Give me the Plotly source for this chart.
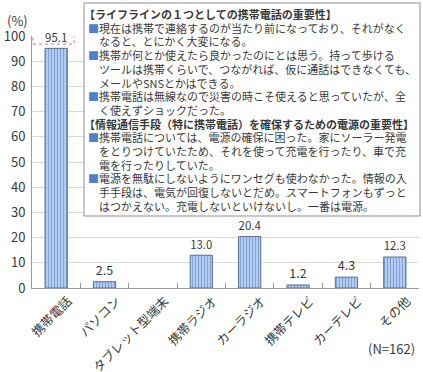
import plotly.graph_objects as go

# ---------------- data ----------------
categories = ["携帯電話", "パソコン", "タブレット型端末", "携帯ラジオ",
              "カーラジオ", "携帯テレビ", "カーテレビ", "その他"]
values = [95.1, 2.5, None, 13.0, 20.4, 1.2, 4.3, 12.3]
y_ticks = [0, 10, 20, 30, 40, 50, 60, 70, 80, 90, 100]
highlight_index = 0  # value framed with a dashed red box
n_label = "(N=162)"
unit_label = "(%)"

box_lines = [
    ("h", "【ライフラインの１つとしての携帯電話の重要性】"),
    ("b", "現在は携帯で連絡するのが当たり前になっており、それがなく"),
    ("c", "なると、とにかく大変になる。"),
    ("b", "携帯が何とか使えたら良かったのにとは思う。持って歩ける"),
    ("c", "ツールは携帯くらいで、つながれば、仮に通話はできなくても、"),
    ("c", "メールやSNSとかはできる。"),
    ("b", "携帯電話は無線なので災害の時こそ使えると思っていたが、全"),
    ("c", "く使えずショックだった。"),
    ("h", "【情報通信手段（特に携帯電話）を確保するための電源の重要性】"),
    ("b", "携帯電話については、電源の確保に困った。家にソーラー発電"),
    ("c", "をとりつけていたため、それを使って充電を行ったり、車で充"),
    ("c", "電を行ったりしていた。"),
    ("b", "電源を無駄にしないようにワンセグも使わなかった。情報の入"),
    ("c", "手手段は、電気が回復しないとだめ。スマートフォンもずっと"),
    ("c", "はつかえない。充電しないといけないし。一番は電源。"),
]

# ---------------- layout constants ----------------
W, H = 423, 372
ML, MR, MT, MB = 32, 4, 36, 84
PW = W - ML - MR
PH = H - MT - MB
FONT = "Noto Sans CJK JP"
TXT = "#3a3a3a"


def px_x(px):
    return (px - ML) / PW


def px_y(py):
    return (H - MB - py) / PH


fig = go.Figure()
fig.add_trace(go.Bar(
    x=categories,
    y=values,
    width=0.46,
    marker=dict(
        color="#b3ccef",
        line=dict(color="#5d6c88", width=1),
        pattern=dict(shape="|", fillmode="replace", bgcolor="#b8d0f2",
                     fgcolor="#7ca3dc", size=3, solidity=0.4),
    ),
    text=[None if v is None else f"{v:.1f}" for v in values],
    textposition="outside",
    textfont=dict(family=FONT, size=12.5, color=TXT),
    cliponaxis=False,
    hoverinfo="skip",
))

# dashed red frame around the highlighted value label
hv = values[highlight_index]
fig.add_shape(type="rect", xref="x", yref="y",
              x0=highlight_index - 0.48, x1=highlight_index + 0.37,
              y0=hv + 1.7, y1=hv + 9.3,
              line=dict(color="#e8707a", width=1, dash="dot"),
              fillcolor="rgba(0,0,0,0)", layer="above")

# text box
fig.add_shape(type="rect", xref="paper", yref="paper",
              x0=px_x(84), x1=px_x(420), y0=px_y(216), y1=px_y(3),
              line=dict(color="#8f8f8f", width=1), fillcolor="white",
              layer="above")

annotations = []
for i, (kind, t) in enumerate(box_lines):
    yc = 14 + i * 13.7
    if kind == "h":
        txt = "<b>" + t + "</b>"
        x0 = 83
    elif kind == "b":
        txt = "<span style='color:#4f7fc6'>■</span>" + t
        x0 = 87
    else:
        txt = "\u3000" + t
        x0 = 87
    annotations.append(dict(
        x=px_x(x0), y=px_y(yc), xref="paper", yref="paper",
        xanchor="left", yanchor="middle", showarrow=False, text=txt,
        borderpad=0,
        font=dict(family=FONT, size=11, color=TXT)))

annotations.append(dict(x=px_x(6), y=px_y(21), xref="paper", yref="paper",
                        xanchor="left", yanchor="middle", showarrow=False,
                        text=unit_label, borderpad=0,
                        font=dict(family=FONT, size=13, color=TXT)))
annotations.append(dict(x=px_x(416), y=px_y(348), xref="paper", yref="paper",
                        xanchor="right", yanchor="middle", showarrow=False,
                        text=n_label, borderpad=0,
                        font=dict(family=FONT, size=13, color=TXT)))

fig.update_layout(
    width=W, height=H,
    margin=dict(l=ML, r=MR, t=MT, b=MB, pad=0, autoexpand=False),
    paper_bgcolor="white", plot_bgcolor="white",
    showlegend=False,
    annotations=annotations,
    font=dict(family=FONT, color=TXT),
    bargap=0.54,
)
fig.update_yaxes(range=[0, 100], tickvals=y_ticks, showgrid=True,
                 gridcolor="#d9d9d9", gridwidth=1, showline=True,
                 linecolor="#9a9a9a", linewidth=1, ticks="", zeroline=False,
                 tickfont=dict(family=FONT, size=13, color=TXT),
                 ticklabelstandoff=3, automargin=False)
fig.update_xaxes(tickangle=-45, showline=True, linecolor="#9a9a9a",
                 linewidth=1, ticks="inside", tickson="boundaries",
                 ticklen=5, tickcolor="#9a9a9a", automargin=False,
                 ticklabelshift=12,
                 tickfont=dict(family=FONT, size=12.5, color=TXT))

fig.write_html("out.html",
               config={"displayModeBar": False},
               post_script="document.body.style.margin='0';"
                           "document.body.style.padding='0';")
